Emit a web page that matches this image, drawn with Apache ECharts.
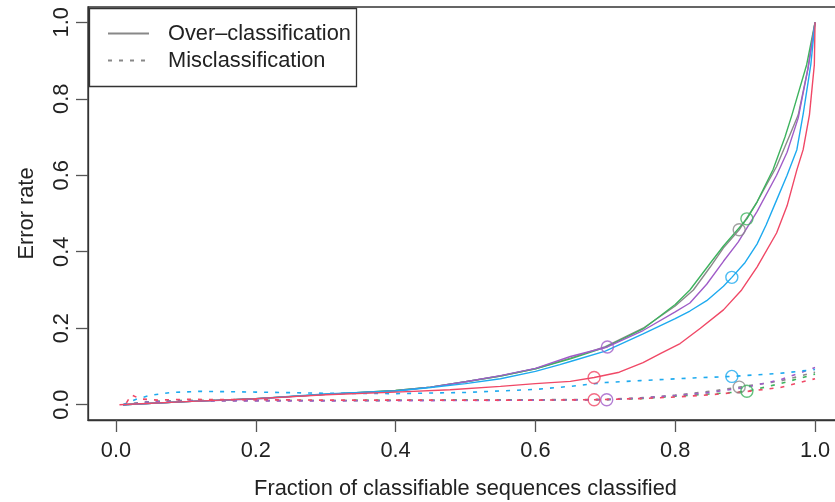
<!DOCTYPE html>
<html>
<head>
<meta charset="utf-8">
<script src="https://cdn.jsdelivr.net/npm/echarts@6/dist/echarts.min.js"></script>
<style>
  html, body { margin: 0; padding: 0; background: #ffffff; }
  #chart { width: 835px; height: 502px; }
</style>
</head>
<body>
<div id="chart"></div>
<script>
// Tick positions on both axes
const xTicks = [0, 0.2, 0.4, 0.6, 0.8, 1.0];
const yTicks = [0, 0.2, 0.4, 0.6, 0.8, 1.0];

// Five methods, one colour each
const methodNames = ['grey', 'green', 'purple', 'blue', 'red'];

// Over-classification error rate vs. fraction classified, [x, y]
const overGrey = [[0.01,0.0],[0.1,0.008],[0.2,0.016],[0.3,0.027],[0.4,0.037],[0.45,0.046],[0.5,0.06],[0.55,0.075],[0.6,0.094],[0.65,0.122],[0.7,0.152],[0.754,0.2],[0.8,0.258],[0.826,0.3],[0.85,0.36],[0.869,0.41],[0.8915,0.4575],[0.917,0.53],[0.945,0.623],[0.965,0.71],[0.976,0.758],[0.99,0.88],[1.0,1.0]];
const overGreen = [[0.01,0.0],[0.1,0.008],[0.2,0.016],[0.3,0.027],[0.4,0.037],[0.45,0.046],[0.5,0.06],[0.55,0.075],[0.6,0.094],[0.65,0.12],[0.7,0.15],[0.754,0.198],[0.8,0.262],[0.821,0.3],[0.85,0.37],[0.869,0.415],[0.9025,0.486],[0.917,0.53],[0.94,0.615],[0.957,0.7],[0.967,0.758],[0.988,0.889],[1.0,1.0]];
const overPurple = [[0.01,0.0],[0.1,0.008],[0.2,0.015],[0.3,0.027],[0.4,0.036],[0.45,0.046],[0.5,0.06],[0.55,0.076],[0.6,0.095],[0.65,0.126],[0.703,0.151],[0.754,0.194],[0.8,0.243],[0.821,0.266],[0.845,0.315],[0.869,0.375],[0.89,0.425],[0.917,0.505],[0.945,0.6],[0.96,0.66],[0.976,0.75],[0.99,0.88],[1.0,1.0]];
const overBlue = [[0.01,0.0],[0.1,0.008],[0.2,0.016],[0.3,0.028],[0.4,0.036],[0.45,0.045],[0.5,0.055],[0.55,0.068],[0.6,0.087],[0.635,0.105],[0.65,0.113],[0.7,0.14],[0.754,0.185],[0.8,0.225],[0.821,0.245],[0.845,0.272],[0.869,0.31],[0.881,0.333],[0.9,0.372],[0.917,0.42],[0.93,0.47],[0.945,0.535],[0.96,0.6],[0.974,0.667],[0.983,0.76],[0.994,0.89],[1.0,1.0]];
const overRed = [[0.005,0.0],[0.1,0.008],[0.2,0.016],[0.3,0.026],[0.4,0.033],[0.478,0.039],[0.55,0.048],[0.6,0.055],[0.65,0.061],[0.684,0.071],[0.72,0.085],[0.754,0.11],[0.78,0.135],[0.807,0.16],[0.836,0.2],[0.869,0.248],[0.895,0.3],[0.917,0.36],[0.945,0.449],[0.96,0.52],[0.974,0.614],[0.983,0.667],[0.992,0.758],[0.999,0.889],[1.0,1.0]];

// Misclassification error rate vs. fraction classified, [x, y]
const misGrey = [[0.01,0.0],[0.05,0.008],[0.1,0.011],[0.3,0.011],[0.5,0.012],[0.7,0.014],[0.75,0.018],[0.8,0.025],[0.85,0.035],[0.8915,0.046],[0.95,0.062],[1.0,0.085]];
const misGreen = [[0.01,0.0],[0.05,0.008],[0.1,0.011],[0.3,0.011],[0.5,0.012],[0.7,0.013],[0.75,0.016],[0.8,0.022],[0.85,0.028],[0.9025,0.035],[0.95,0.055],[1.0,0.08]];
const misPurple = [[0.01,0.0],[0.05,0.008],[0.1,0.01],[0.3,0.01],[0.5,0.011],[0.702,0.013],[0.75,0.017],[0.8,0.024],[0.85,0.032],[0.9,0.045],[0.95,0.065],[1.0,0.097]];
const misBlue = [[0.01,0.0],[0.03,0.015],[0.05,0.025],[0.08,0.032],[0.12,0.035],[0.2,0.033],[0.3,0.03],[0.4,0.029],[0.5,0.032],[0.6,0.04],[0.65,0.048],[0.7,0.058],[0.75,0.063],[0.826,0.07],[0.881,0.074],[0.95,0.082],[1.0,0.092]];
const misRed = [[0.015,0.005],[0.022,0.026],[0.035,0.015],[0.06,0.012],[0.1,0.014],[0.2,0.013],[0.3,0.012],[0.4,0.012],[0.5,0.012],[0.6,0.012],[0.684,0.013],[0.75,0.016],[0.8,0.02],[0.85,0.026],[0.9,0.034],[0.95,0.045],[1.0,0.068]];

// Operating point of each method on each curve
const overPoints = [[0.8915,0.4575],[0.9025,0.486],[0.703,0.151],[0.881,0.333],[0.684,0.071]];
const misPoints = [[0.8915,0.046],[0.9025,0.035],[0.702,0.013],[0.881,0.074],[0.684,0.013]];

const legendNames = ['Over\u2013classification', 'Misclassification'];

const colors = {
  grey: '#8a8a8a',
  green: '#3db35e',
  purple: '#a05cc8',
  blue: '#1eaaef',
  red: '#f04866'
};
const overData = { grey: overGrey, green: overGreen, purple: overPurple, blue: overBlue, red: overRed };
const misData = { grey: misGrey, green: misGreen, purple: misPurple, blue: misBlue, red: misRed };

const FONT = '"Liberation Sans", Arial, Helvetica, sans-serif';
const FS = 21.8;
const INK = '#222222';
const DOT = [4, 7];

const series = [];
methodNames.forEach((m, i) => {
  series.push({
    type: 'line', data: overData[m], showSymbol: false, symbol: 'none',
    lineStyle: { color: colors[m], width: 1.4 }, z: 2 + i, silent: true
  });
});
methodNames.forEach((m, i) => {
  series.push({
    type: 'line', data: misData[m], showSymbol: false, symbol: 'none',
    lineStyle: { color: colors[m], width: 1.6, type: DOT }, z: 2 + i, silent: true
  });
});
methodNames.forEach((m, i) => {
  series.push({
    type: 'scatter', data: [overPoints[i], misPoints[i]], symbol: 'circle', symbolSize: 12,
    itemStyle: { color: 'rgba(0,0,0,0)', borderColor: colors[m], borderWidth: 1.4 }, z: 10, silent: true
  });
});
// Legend keys
series.push({ name: legendNames[0], type: 'line', data: [], symbol: 'none', itemStyle: { color: '#888888' }, lineStyle: { color: '#888888', width: 1.6 } });
series.push({ name: legendNames[1], type: 'line', data: [], symbol: 'none', itemStyle: { color: '#888888' }, lineStyle: { color: '#888888', width: 1.6, type: DOT } });

const tickFmt = v => v.toFixed(1);

const option = {
  animation: false,
  backgroundColor: '#ffffff',
  grid: {
    left: 88, top: 7, right: -8, bottom: 82,
    outerBoundsMode: 'none',
    show: true, borderColor: '#333333', borderWidth: 1.3, backgroundColor: 'transparent'
  },
  xAxis: {
    type: 'value', min: -0.04, max: 1.04,
    name: 'Fraction of classifiable sequences classified',
    nameLocation: 'middle', nameGap: 58,
    nameTextStyle: { fontFamily: FONT, fontSize: FS, color: INK },
    axisLine: { show: true, onZero: false, lineStyle: { color: '#333333', width: 1.3 } },
    axisTick: { show: true, length: 12, customValues: xTicks, lineStyle: { color: '#555555', width: 1.3 } },
    axisLabel: { customValues: xTicks, formatter: tickFmt, margin: 20, fontFamily: FONT, fontSize: FS, color: INK },
    splitLine: { show: false }
  },
  yAxis: {
    type: 'value', min: -0.04, max: 1.04,
    name: 'Error rate',
    nameLocation: 'middle', nameGap: 50, nameRotate: 90,
    nameTextStyle: { fontFamily: FONT, fontSize: FS, color: INK },
    axisLine: { show: true, onZero: false, lineStyle: { color: '#333333', width: 1.3 } },
    axisTick: { show: true, length: 12, customValues: yTicks, lineStyle: { color: '#555555', width: 1.3 } },
    axisLabel: { customValues: yTicks, formatter: tickFmt, rotate: 90, margin: 15, fontFamily: FONT, fontSize: FS, color: INK },
    splitLine: { show: false }
  },
  legend: {
    data: legendNames,
    orient: 'vertical', left: 107, top: 20, padding: 0,
    itemWidth: 41, itemHeight: 14, itemGap: 0,
    itemStyle: { opacity: 0 },
    textStyle: { fontFamily: FONT, fontSize: FS, color: INK, lineHeight: 27, padding: [0, 0, 0, 14] },
    selectedMode: false
  },
  graphic: [{
    type: 'rect', left: 87, top: 6, z: 50,
    shape: { width: 267, height: 78 },
    style: { fill: 'none', stroke: '#333333', lineWidth: 1.3 }
  }],
  series: series
};

const chart = echarts.init(document.getElementById('chart'), null, { renderer: 'canvas' });
chart.setOption(option);
</script>
</body>
</html>
